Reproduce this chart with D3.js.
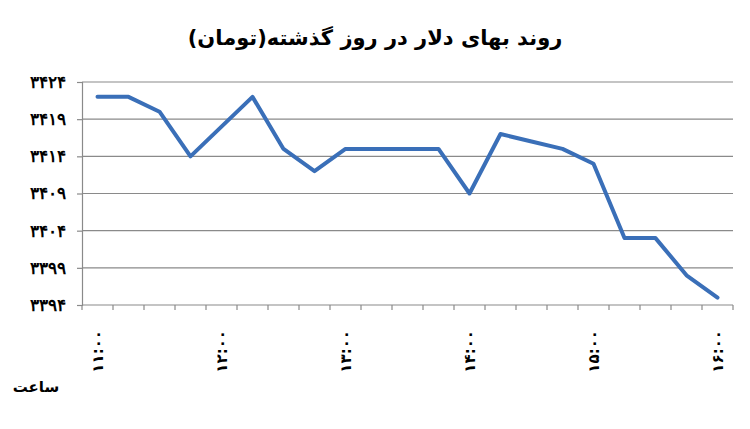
<!DOCTYPE html>
<html>
<head>
<meta charset="utf-8">
<script src="https://cdn.jsdelivr.net/npm/d3@7.9.0/dist/d3.min.js"></script>
<style>
  body { margin: 0; background: #fff; }
  svg { display: block; font-family: "DejaVu Sans", sans-serif; }
</style>
</head>
<body>
<div id="chart"></div>
<script>
// chart data (15-minute steps, 11:00 -> 16:00)
const times = ["11:00","11:15","11:30","11:45","12:00","12:15","12:30","12:45",
  "13:00","13:15","13:30","13:45","14:00","14:15","14:30","14:45",
  "15:00","15:15","15:30","15:45","16:00"];
const prices = [3422, 3422, 3420, 3414, 3418, 3422, 3415, 3412,
  3415, 3415, 3415, 3415, 3409, 3417, 3416, 3415,
  3413, 3403, 3403, 3398, 3395];
const yTicks = [3394, 3399, 3404, 3409, 3414, 3419, 3424];
const hourLabels = ["11:00", "12:00", "13:00", "14:00", "15:00", "16:00"];

const titleText = "روند بهای دلار در روز گذشته(تومان)";
const xTitle = "ساعت";

// western digits -> persian digits
const faDigits = "۰۱۲۳۴۵۶۷۸۹";
const toFa = s => String(s).replace(/[0-9]/g, c => faDigits[+c]);

const width = 750, height = 429;
const margin = { top: 82, right: 17, bottom: 124, left: 82 };
const inner = {
  left: margin.left,
  right: width - margin.right,
  top: margin.top,
  bottom: height - margin.bottom
};

const svg = d3.select("#chart").append("svg")
  .attr("width", width)
  .attr("height", height);

const x = d3.scaleBand()
  .domain(times)
  .range([inner.left, inner.right]);

const y = d3.scaleLinear()
  .domain([3394, 3424])
  .range([inner.bottom, inner.top]);

// gridlines
svg.append("g")
  .attr("class", "grid")
  .selectAll("line")
  .data(yTicks.slice(1))
  .join("line")
  .attr("x1", inner.left)
  .attr("x2", inner.right)
  .attr("y1", d => y(d))
  .attr("y2", d => y(d))
  .attr("stroke", "#8a8a8a")
  .attr("stroke-width", 1.2);

// y axis
const yAxis = svg.append("g")
  .attr("transform", `translate(${inner.left},0)`)
  .call(d3.axisLeft(y).tickValues(yTicks).tickSize(5).tickPadding(11).tickFormat(toFa));
yAxis.select(".domain").attr("stroke", "#8a8a8a").attr("stroke-width", 1.2);
yAxis.selectAll(".tick line").attr("stroke", "#8a8a8a").attr("stroke-width", 1.2);
yAxis.selectAll(".tick text")
  .attr("fill", "#000")
  .style("font-size", "17px")
  .style("font-weight", "bold")
  .style("letter-spacing", "4px");

// x axis: ticks between categories
const bounds = times.map(t => x(t)).concat([x(times[times.length - 1]) + x.bandwidth()]);
const xAxis = svg.append("g");
xAxis.append("line")
  .attr("x1", inner.left).attr("x2", inner.right)
  .attr("y1", inner.bottom).attr("y2", inner.bottom)
  .attr("stroke", "#8a8a8a").attr("stroke-width", 1.2);
xAxis.selectAll("line.tick")
  .data(bounds)
  .join("line")
  .attr("class", "tick")
  .attr("x1", d => d).attr("x2", d => d)
  .attr("y1", inner.bottom).attr("y2", inner.bottom + 5)
  .attr("stroke", "#8a8a8a").attr("stroke-width", 1.2);

xAxis.selectAll("text")
  .data(hourLabels)
  .join("text")
  .attr("transform", d => `translate(${x(d) + x.bandwidth() / 2 + 5},${inner.bottom + 25}) rotate(-90)`)
  .attr("text-anchor", "end")
  .attr("direction", "ltr")
  .style("font-size", "15px")
  .style("font-weight", "bold")
  .style("letter-spacing", "1.5px")
  .text(d => toFa(d));

// line
const line = d3.line()
  .x((d, i) => x(times[i]) + x.bandwidth() / 2)
  .y(d => y(d));

svg.append("path")
  .datum(prices)
  .attr("d", line)
  .attr("fill", "none")
  .attr("stroke", "#3a6fb8")
  .attr("stroke-width", 4)
  .attr("stroke-linejoin", "round")
  .attr("stroke-linecap", "round");

// titles
svg.append("text")
  .attr("x", 375)
  .attr("y", 45)
  .attr("text-anchor", "middle")
  .attr("direction", "rtl")
  .style("font-size", "21px")
  .style("font-weight", "bold")
  .text(titleText);

svg.append("text")
  .attr("x", 36)
  .attr("y", 392)
  .attr("text-anchor", "middle")
  .attr("direction", "rtl")
  .style("font-size", "15px")
  .style("font-weight", "bold")
  .text(xTitle);
</script>
</body>
</html>
